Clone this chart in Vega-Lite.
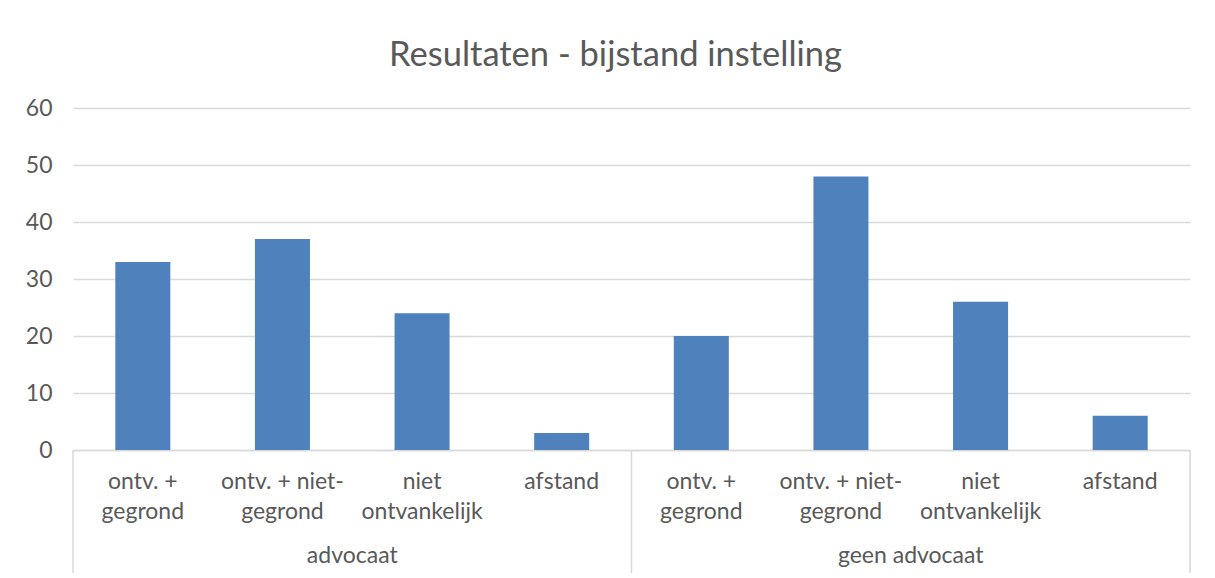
{
  "$schema": "https://vega.github.io/schema/vega-lite/v6.json",
  "width": 1117,
  "height": 342,
  "autosize": "none",
  "padding": {"left": 73, "top": 108, "right": 25, "bottom": 128},
  "background": "white",
  "title": {
    "text": "Resultaten - bijstand instelling",
    "font": "Lato",
    "fontSize": 34.5,
    "fontWeight": "normal",
    "color": "#595959",
    "anchor": "middle",
    "frame": "group",
    "baseline": "alphabetic",
    "offset": -3,
    "dx": -16
  },
  "data": {
    "values": [
      {"group": "advocaat", "category": "ontv. + gegrond", "bar": "advocaat | ontv. + gegrond", "value": 33},
      {"group": "advocaat", "category": "ontv. + niet-gegrond", "bar": "advocaat | ontv. + niet-gegrond", "value": 37},
      {"group": "advocaat", "category": "niet ontvankelijk", "bar": "advocaat | niet ontvankelijk", "value": 24},
      {"group": "advocaat", "category": "afstand", "bar": "advocaat | afstand", "value": 3},
      {"group": "geen advocaat", "category": "ontv. + gegrond", "bar": "geen advocaat | ontv. + gegrond", "value": 20},
      {"group": "geen advocaat", "category": "ontv. + niet-gegrond", "bar": "geen advocaat | ontv. + niet-gegrond", "value": 48},
      {"group": "geen advocaat", "category": "niet ontvankelijk", "bar": "geen advocaat | niet ontvankelijk", "value": 26},
      {"group": "geen advocaat", "category": "afstand", "bar": "geen advocaat | afstand", "value": 6}
    ]
  },
  "layer": [
    {
      "mark": {"type": "bar", "color": "#4f81bd", "width": {"band": 0.394}},
      "encoding": {
        "x": {
          "field": "bar",
          "type": "nominal",
          "sort": null,
          "scale": {"paddingInner": 0, "paddingOuter": 0},
          "axis": {
            "title": null,
            "labelAngle": 0,
            "labelFont": "Lato",
            "labelFontSize": 23,
            "labelColor": "#595959",
            "labelPadding": 20,
            "labelLineHeight": 30,
            "labelBaseline": "top",
            "ticks": false,
            "domainColor": "#d9d9d9",
            "domainWidth": 1.5,
            "labelExpr": "indexof(datum.value, 'niet-gegrond') >= 0 ? ['ontv. + niet-', 'gegrond'] : indexof(datum.value, 'ontv. + gegrond') >= 0 ? ['ontv. +', 'gegrond'] : indexof(datum.value, 'ontvankelijk') >= 0 ? ['niet', 'ontvankelijk'] : 'afstand'"
          }
        },
        "y": {
          "field": "value",
          "type": "quantitative",
          "scale": {"domain": [0, 60], "nice": false},
          "axis": {
            "title": null,
            "values": [0, 10, 20, 30, 40, 50, 60],
            "labelFont": "Lato",
            "labelFontSize": 23,
            "labelColor": "#595959",
            "labelPadding": 21,
            "ticks": false,
            "domain": false,
            "gridColor": "#d9d9d9",
            "gridWidth": 1.5
          }
        }
      }
    },
    {
      "transform": [{"filter": "datum.category == 'ontv. + gegrond'"}],
      "mark": {"type": "rule", "color": "#d9d9d9", "strokeWidth": 1.5},
      "encoding": {
        "x": {"field": "bar", "type": "nominal", "sort": null, "bandPosition": 0},
        "y": {"datum": 0, "type": "quantitative"},
        "y2": {"datum": -21.6}
      }
    },
    {
      "transform": [{"filter": "datum.category == 'afstand' && datum.group == 'geen advocaat'"}],
      "mark": {"type": "rule", "color": "#d9d9d9", "strokeWidth": 1.5},
      "encoding": {
        "x": {"field": "bar", "type": "nominal", "sort": null, "bandPosition": 1},
        "y": {"datum": 0, "type": "quantitative"},
        "y2": {"datum": -21.6}
      }
    },
    {
      "transform": [{"filter": "datum.category == 'ontv. + niet-gegrond'"}],
      "mark": {"type": "text", "font": "Lato", "fontSize": 23, "color": "#595959", "baseline": "middle", "align": "center"},
      "encoding": {
        "x": {"field": "bar", "type": "nominal", "sort": null, "bandPosition": 1},
        "y": {"datum": -18.6, "type": "quantitative"},
        "text": {"field": "group"}
      }
    }
  ],
  "config": {"view": {"stroke": null}}
}
